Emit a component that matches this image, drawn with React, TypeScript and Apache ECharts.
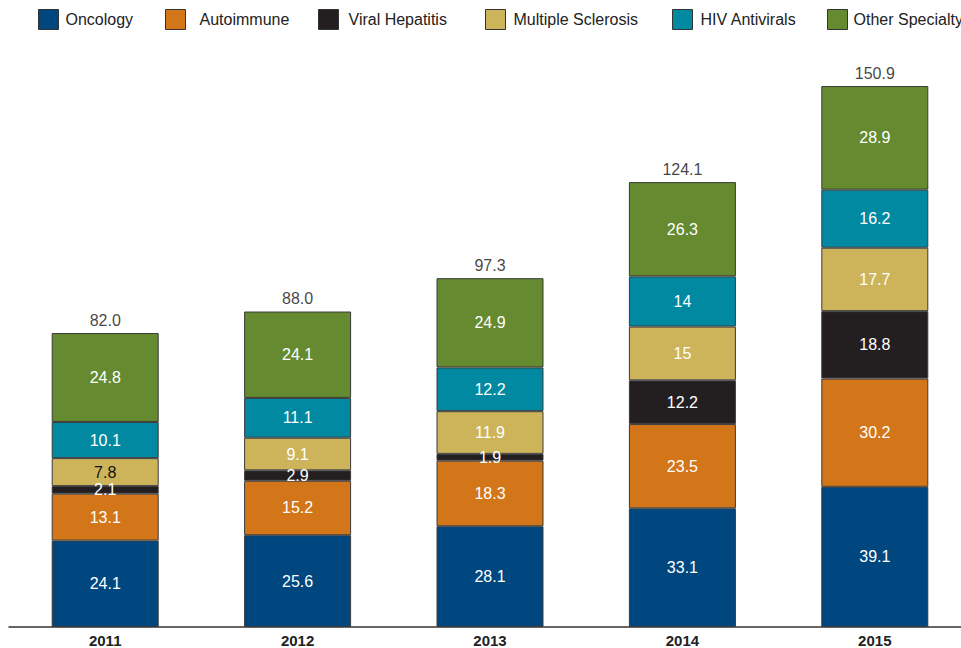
import React, { useEffect, useRef } from "react";
import * as echarts from "echarts";

const years = ["2011", "2012", "2013", "2014", "2015"];
const seriesNames = ["Oncology", "Autoimmune", "Viral Hepatitis", "Multiple Sclerosis", "HIV Antivirals", "Other Specialty"];
const oncology = [24.1, 25.6, 28.1, 33.1, 39.1];
const autoimmune = [13.1, 15.2, 18.3, 23.5, 30.2];
const viralHepatitis = [2.1, 2.9, 1.9, 12.2, 18.8];
const multipleSclerosis = [7.8, 9.1, 11.9, 15, 17.7];
const hivAntivirals = [10.1, 11.1, 12.2, 14, 16.2];
const otherSpecialty = [24.8, 24.1, 24.9, 26.3, 28.9];
const totals = [82.0, 88.0, 97.3, 124.1, 150.9];

const colors = ["#00467f", "#d27619", "#231f20", "#cdb45a", "#0089a0", "#658a2f"];
const legendLeft = [33, 160, 313, 480, 667, 822];
const legendTextPad = [2, 9, 5, 3, 3, 1];

export default function App() {
  const ref = useRef<HTMLDivElement>(null);
  useEffect(() => {
    document.body.style.margin = "0";
    const chart = echarts.init(ref.current!, null, { renderer: "svg" });
    const values = [oncology, autoimmune, viralHepatitis, multipleSclerosis, hivAntivirals, otherSpecialty];
    const font = "'Liberation Sans', Arial, sans-serif";
    const barSeries = values.map((vals, i) => ({
      name: seriesNames[i],
      type: "bar",
      stack: "total",
      barWidth: 107,
      itemStyle: { color: colors[i], borderColor: "#3a3a3a", borderWidth: 1 },
      label: {
        show: true,
        position: "inside",
        color: "#ffffff",
        fontSize: 16,
        fontFamily: font,
      },
      data: vals.map((v, j) =>
        i === 3 && j === 0 ? { value: v, label: { color: "#111111" } } : v
      ),
    }));
    const option: any = {
      animation: false,
      textStyle: { fontFamily: font },
      legend: seriesNames.map((n, i) => ({
        data: [n],
        left: legendLeft[i],
        top: 4,
        itemWidth: 20,
        itemHeight: 20,
        icon: "rect",
        itemStyle: { borderColor: "#333333", borderWidth: 1 },
        textStyle: { fontSize: 16, color: "#222222", fontFamily: font, padding: [0, 0, 0, legendTextPad[i]] },
        selectedMode: false,
      })),
      grid: { left: 9, width: 962, top: 53.4, bottom: 21, containLabel: false, outerBoundsMode: "none" },
      xAxis: {
        type: "category",
        data: years,
        axisLine: { lineStyle: { color: "#333333", width: 1.5 } },
        axisTick: { show: false },
        axisLabel: { color: "#222222", fontSize: 15, fontWeight: "bold", margin: 6, fontFamily: font },
      },
      yAxis: { type: "value", min: 0, max: 160, show: false },
      series: [
        ...barSeries,
        {
          name: "Total",
          type: "scatter",
          symbolSize: 0,
          data: totals,
          label: {
            show: true,
            position: "top",
            distance: 5,
            color: "#111111",
            fontSize: 16,
            fontFamily: font,
            formatter: (p: any) => Number(p.value).toFixed(1),
          },
        },
      ],
    };
    chart.setOption(option);
    return () => chart.dispose();
  }, []);
  return <div ref={ref} style={{ width: 961, height: 648 }} />;
}
